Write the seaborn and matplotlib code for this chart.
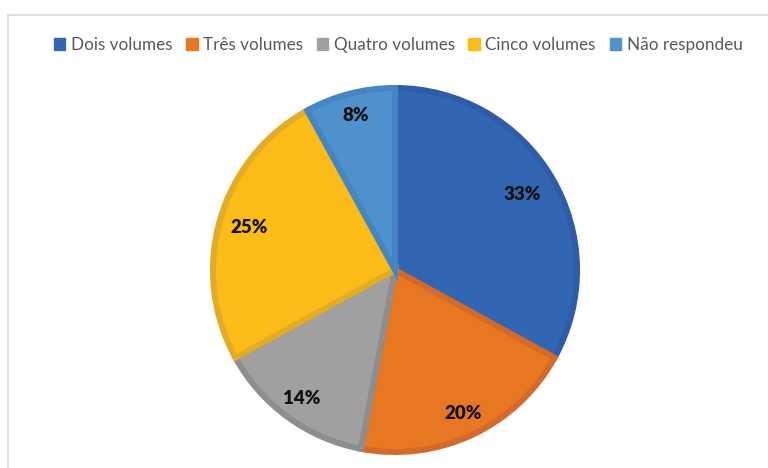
import matplotlib
matplotlib.use("Agg")
import matplotlib.pyplot as plt
import seaborn as sns
import numpy as np
from matplotlib.lines import Line2D
from matplotlib.patches import Patch

categories = ["Dois volumes", "Três volumes", "Quatro volumes", "Cinco volumes", "Não respondeu"]
values = [33, 20, 14, 25, 8]
labels = ["33%", "20%", "14%", "25%", "8%"]
fill_colors = ["#3366B2", "#E87722", "#A0A0A0", "#FBBC17", "#4E91CD"]
edge_colors = ["#2E5CA8", "#D3692A", "#8E8E8E", "#E2AC26", "#4585C1"]

sns.set_theme(style="white")
plt.rcParams["font.family"] = ["Lato", "DejaVu Sans"]

W, H = 768, 468
fig = plt.figure(figsize=(W / 100, H / 100), dpi=100)
fig.patch.set_facecolor("white")

# chart frame (left and top border)
fig.add_artist(Line2D([8 / W, 8 / W], [0, 1 - 15 / H], color="#D9D9D9", lw=1.2))
fig.add_artist(Line2D([8 / W, 1], [1 - 15 / H, 1 - 15 / H], color="#D9D9D9", lw=1.2))

cx, cy, r = 395, 270, 185
ax = fig.add_axes([(cx - r) / W, (H - cy - r) / H, 2 * r / W, 2 * r / H])
wedges, texts = ax.pie(values, colors=fill_colors, startangle=90, counterclock=False,
                       radius=0.984, labels=None,
                       wedgeprops=dict(linewidth=4.3))
for w, ec in zip(wedges, edge_colors):
    w.set_edgecolor(ec)
    w.set_joinstyle("miter")

start = 90.0
total = sum(values)
dists = [0.80, 0.86, 0.86, 0.82, 0.86]
for v, lab, d in zip(values, labels, dists):
    ang = start - v / total * 360 / 2
    start -= v / total * 360
    x = d * np.cos(np.deg2rad(ang))
    y = d * np.sin(np.deg2rad(ang))
    ax.text(x, y, lab, ha="center", va="center", fontsize=13.5, fontweight="heavy", color="#111111")
ax.set_xlim(-1, 1)
ax.set_ylim(-1, 1)
ax.set_aspect("equal")
ax.axis("off")

handles = [Patch(facecolor=c, edgecolor=c) for c in fill_colors]
leg = fig.legend(handles, categories, loc="center", bbox_to_anchor=(398 / W, 1 - 45 / H), ncol=5,
                 frameon=False, fontsize=12.3, handlelength=0.7, handleheight=0.7,
                 handletextpad=0.3, columnspacing=0.8, borderaxespad=0)
for t in leg.get_texts():
    t.set_color("#595959")

fig.savefig("out.png", dpi=100, facecolor="white")
